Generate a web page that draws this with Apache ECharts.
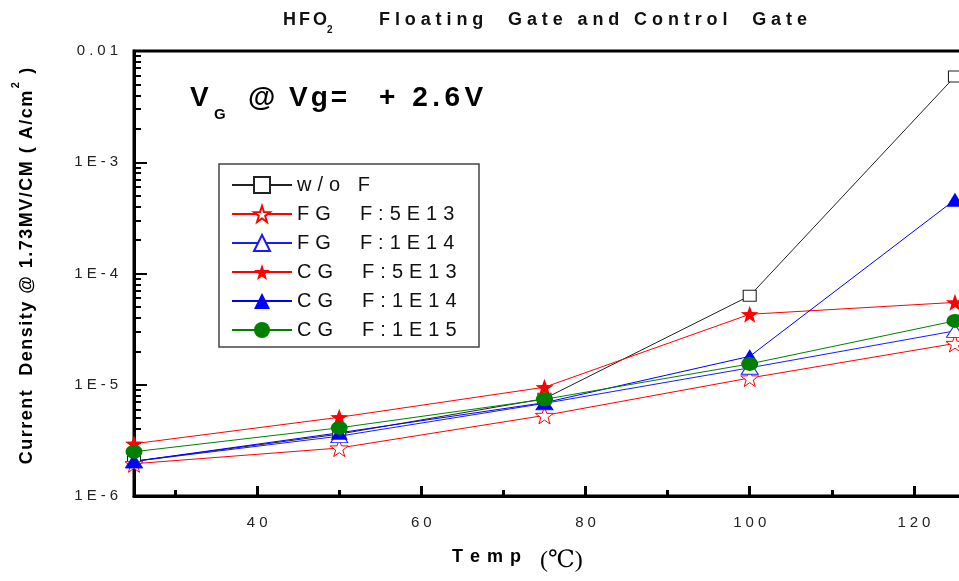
<!DOCTYPE html>
<html>
<head>
<meta charset="utf-8">
<script src="https://cdn.jsdelivr.net/npm/echarts@6/dist/echarts.min.js"></script>
<style>
  html, body { margin: 0; padding: 0; background: #fff; }
  #chart { width: 959px; height: 581px; }
</style>
</head>
<body>
<div id="chart"></div>
<script>
// Temperatures (°C) at which the leakage current was measured
const temps = [25, 50, 75, 100, 125];

// Current density (A/cm^2) at 1.73 MV/cm for each sample
const woF    = [2.05e-6, 3.6e-6, 7.5e-6, 6.3e-5, 5.9e-3];
const fg5e13 = [1.95e-6, 2.7e-6, 5.3e-6, 1.15e-5, 2.35e-5];
const fg1e14 = [2.05e-6, 3.45e-6, 6.8e-6, 1.42e-5, 3.05e-5];
const cg5e13 = [2.95e-6, 5.1e-6, 9.5e-6, 4.3e-5, 5.5e-5];
const cg1e14 = [2.05e-6, 3.7e-6, 6.9e-6, 1.8e-5, 4.6e-4];
const cg1e15 = [2.5e-6, 4.1e-6, 7.4e-6, 1.54e-5, 3.75e-5];

const seriesNames = ['w/o F', 'FG  F:5E13', 'FG  F:1E14', 'CG  F:5E13', 'CG  F:1E14', 'CG  F:1E15'];

// Axis ticks
const xMajorTicks = [40, 60, 80, 100, 120];
const xMinorTicks = [30, 50, 70, 90, 110];
const yMinorMultipliers = [2, 3, 4, 5, 6, 7, 8, 9];
const yDecadeExponents = [-6, -5, -4, -3];

const FONT = '"Liberation Sans", Arial, Helvetica, sans-serif';

// Build a rich-text string where each character is its own token, so the
// glyphs can be spread apart with token padding (letter spacing).
function spaced(text, key) {
  const chars = Array.from(text);
  return chars.map((ch, i) => '{' + (i < chars.length - 1 ? key : key + 'L') + '|' + ch + '}').join('');
}
function spacedStyles(key, base, gap) {
  const s = {};
  s[key] = Object.assign({}, base, { padding: [0, gap, 0, 0] });
  s[key + 'L'] = Object.assign({}, base);
  return s;
}

// Log-scale minor tick positions, expressed as log10 values on an overlay axis
const yMinorLog = [];
yDecadeExponents.forEach(e => yMinorMultipliers.forEach(m => yMinorLog.push(Math.log10(m) + e)));

const STAR = 'path://M0,-10L2.35,-3.24L9.51,-3.09L3.8,1.24L5.88,8.09L0,4L-5.88,8.09L-3.8,1.24L-9.51,-3.09L-2.35,-3.24Z';

function pairs(values) {
  return temps.map((t, i) => [t, values[i]]);
}

const seriesDefs = [
  { name: seriesNames[0], data: woF,    color: '#222222', symbol: 'rect',     size: [13, 11], hollow: true },
  { name: seriesNames[1], data: fg5e13, color: '#ff0000', symbol: STAR,       size: 18,       hollow: true },
  { name: seriesNames[2], data: fg1e14, color: '#1a1aff', symbol: 'triangle', size: [17, 13], hollow: true },
  { name: seriesNames[3], data: cg5e13, color: '#ff0000', symbol: STAR,       size: 18,       hollow: false },
  { name: seriesNames[4], data: cg1e14, color: '#0000ff', symbol: 'triangle', size: [17, 14], hollow: false },
  { name: seriesNames[5], data: cg1e15, color: '#008000', symbol: 'circle',   size: [17, 14], hollow: false }
];

const series = seriesDefs.map(d => ({
  name: d.name,
  type: 'line',
  xAxisIndex: 0,
  yAxisIndex: 0,
  data: pairs(d.data),
  symbol: d.symbol,
  symbolSize: d.size,
  symbolKeepAspect: true,
  showAllSymbol: true,
  clip: false,
  lineStyle: { color: d.color, width: 1 },
  itemStyle: d.hollow
    ? { color: '#ffffff', borderColor: d.color, borderWidth: 1 }
    : { color: d.color, borderColor: d.color, borderWidth: 0 },
  emphasis: { disabled: true },
  animation: false
}));

const tickFont = { fontFamily: FONT, fontSize: 15, color: '#222' };
const legendFont = { fontFamily: FONT, fontSize: 20, color: '#111' };

// y-axis title: per-character tokens with a raised superscript "2"
const yTitleHead = 'Current  Density @ 1.73MV/CM ( A/cm';
const yTitleTail = ' )';
const yTitleRich = spaced(yTitleHead, 'b').replace(/\{bL\|/, '{b|') + '{sup|2}' + spaced(yTitleTail, 'b');
const yTitleBase = { fontFamily: FONT, fontSize: 18, fontWeight: 'bold', fill: '#000' };

const option = {
  backgroundColor: '#ffffff',
  animation: false,
  grid: {
    left: 134, top: 51, width: 862, bottom: 85,
    outerBoundsMode: 'none', containLabel: false,
    show: true, borderColor: '#000', borderWidth: 3, backgroundColor: 'transparent'
  },
  xAxis: [
    {
      type: 'value', min: 25, max: 130, position: 'bottom',
      axisLine: { show: true, lineStyle: { color: '#000', width: 3 } },
      axisTick: { show: true, inside: true, length: 10, customValues: xMajorTicks, lineStyle: { color: '#000', width: 3 } },
      axisLabel: {
        show: true, margin: 19, customValues: xMajorTicks,
        formatter: v => spaced(String(v), 'x'),
        rich: spacedStyles('x', tickFont, 4)
      },
      splitLine: { show: false }
    },
    {
      type: 'value', min: 25, max: 130, position: 'bottom',
      axisLine: { show: false },
      axisTick: { show: true, inside: true, length: 6, customValues: xMinorTicks, lineStyle: { color: '#000', width: 3 } },
      axisLabel: { show: false },
      splitLine: { show: false }
    }
  ],
  yAxis: [
    {
      type: 'log', logBase: 10, min: 1e-6, max: 1e-2, position: 'left',
      axisLine: { show: true, lineStyle: { color: '#000', width: 3 } },
      axisTick: { show: true, inside: true, length: 13, lineStyle: { color: '#000', width: 2 } },
      axisLabel: {
        show: true, margin: 16,
        formatter: v => {
          const e = Math.round(Math.log10(v));
          return spaced(e === -2 ? '0.01' : '1E-' + (-e), 'y');
        },
        rich: spacedStyles('y', tickFont, 4)
      },
      splitLine: { show: false }
    },
    {
      type: 'value', min: -6, max: -2, position: 'left',
      axisLine: { show: false },
      axisTick: { show: true, inside: true, length: 7, customValues: yMinorLog, lineStyle: { color: '#000', width: 2 } },
      axisLabel: { show: false },
      splitLine: { show: false }
    }
  ],
  legend: {
    show: true,
    orient: 'vertical',
    left: 219, top: 164,
    padding: [11, 12, 9, 12],
    itemWidth: 60, itemHeight: 20, itemGap: 9,
    selectedMode: false,
    formatter: name => spaced(name, 'l'),
    textStyle: Object.assign({ rich: spacedStyles('l', legendFont, 6) }, legendFont),
    data: seriesNames
  },
  graphic: [
    // legend frame
    { type: 'rect', shape: { x: 219, y: 164, width: 260, height: 183 }, style: { fill: 'none', stroke: '#444', lineWidth: 1.5 }, z: 5, silent: true },
    // chart title with subscript
    { type: 'text', x: 283, y: 20, style: { text: spaced('HFO', 't'), rich: spacedStyles('t', { fontFamily: FONT, fontSize: 18, fontWeight: 'bold', fill: '#111' }, 3), verticalAlign: 'middle', align: 'left' } },
    { type: 'text', x: 327, y: 30, style: { text: '2', fontFamily: FONT, fontSize: 10, fontWeight: 'bold', fill: '#111', verticalAlign: 'middle', align: 'left' } },
    { type: 'text', x: 379, y: 20, style: { text: spaced('Floating  Gate and Control  Gate', 't'), rich: spacedStyles('t', { fontFamily: FONT, fontSize: 18, fontWeight: 'bold', fill: '#111' }, 4.9), verticalAlign: 'middle', align: 'left' } },
    // bias condition note
    { type: 'text', x: 190, y: 98, style: { text: 'V', fontFamily: FONT, fontSize: 28, fontWeight: 'bold', fill: '#000', verticalAlign: 'middle', align: 'left' } },
    { type: 'text', x: 214, y: 115, style: { text: 'G', fontFamily: FONT, fontSize: 15, fontWeight: 'bold', fill: '#000', verticalAlign: 'middle', align: 'left' } },
    { type: 'text', x: 248, y: 98, style: { text: spaced('@ Vg=', 'v'), rich: spacedStyles('v', { fontFamily: FONT, fontSize: 28, fontWeight: 'bold', fill: '#000' }, 3), verticalAlign: 'middle', align: 'left' } },
    { type: 'text', x: 379, y: 98, style: { text: spaced('+ 2.6V', 'v'), rich: spacedStyles('v', { fontFamily: FONT, fontSize: 28, fontWeight: 'bold', fill: '#000' }, 4.5), verticalAlign: 'middle', align: 'left' } },
    // y-axis title (rotated, with superscript)
    {
      type: 'text', x: 27, y: 266, rotation: Math.PI / 2,
      style: {
        text: yTitleRich,
        rich: Object.assign(spacedStyles('b', yTitleBase, 1.5), {
          sup: { fontFamily: FONT, fontSize: 11, fontWeight: 'bold', fill: '#000', padding: [0, 2, 22, 1] }
        }),
        align: 'center', verticalAlign: 'middle'
      }
    },
    // x-axis title
    { type: 'text', x: 452, y: 557, style: { text: spaced('Temp', 'a'), rich: spacedStyles('a', { fontFamily: FONT, fontSize: 18, fontWeight: 'bold', fill: '#000' }, 7), verticalAlign: 'middle', align: 'left' } },
    { type: 'text', x: 540, y: 561, style: { text: '(℃)', fontFamily: '"Liberation Serif", "DejaVu Serif", serif', fontSize: 24, fill: '#000', verticalAlign: 'middle', align: 'left' } }
  ],
  series: series
};

const chart = echarts.init(document.getElementById('chart'), null, { renderer: 'canvas' });
chart.setOption(option);
</script>
</body>
</html>
